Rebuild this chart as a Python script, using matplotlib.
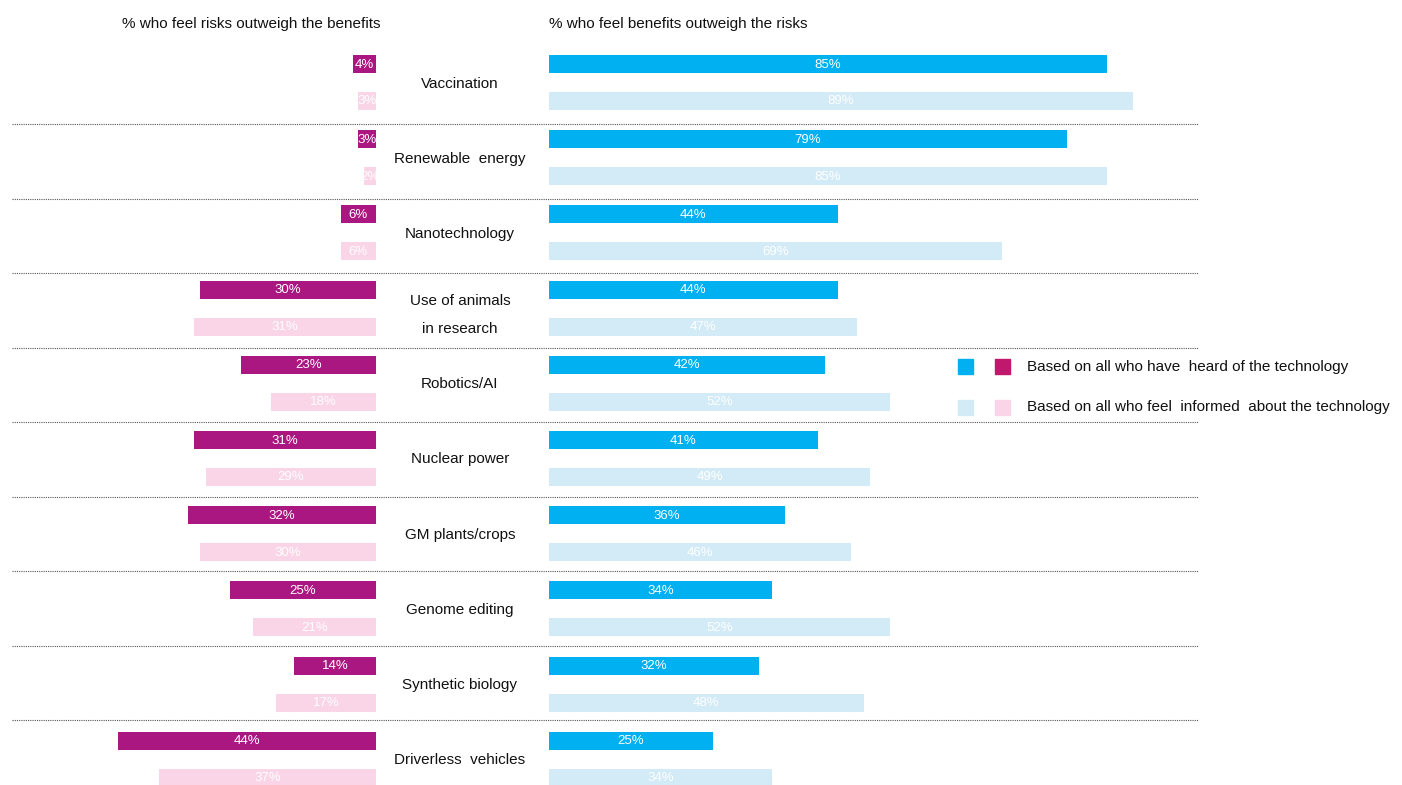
import matplotlib
matplotlib.use("Agg")
import numpy as np
import matplotlib.pyplot as plt
from matplotlib.patches import Rectangle
from matplotlib.lines import Line2D

plt.rcParams['font.family'] = ['Liberation Sans', 'DejaVu Sans']

## ---------------- dados ----------------
categorias = ["Vaccination", "Renewable  energy", "Nanotechnology",
              "Use of animals\n\nin research", "Robotics/AI", "Nuclear power",
              "GM plants/crops", "Genome editing", "Synthetic biology",
              "Driverless  vehicles"]
beneficio_ouviu = [85, 79, 44, 44, 42, 41, 36, 34, 32, 25]
beneficio_informado = [89, 85, 69, 47, 52, 49, 46, 52, 48, 34]
risco_ouviu = [4, 3, 6, 30, 23, 31, 32, 25, 14, 44]
risco_informado = [3, 2, 6, 31, 18, 29, 30, 21, 17, 37]

titulo_esq = "% who feel risks outweigh the benefits"
titulo_dir = "% who feel benefits outweigh the risks"
legenda = ["Based on all who have  heard of the technology",
           "Based on all who feel  informed  about the technology"]

## ---------------- cores ----------------
azul = "#00b0f0"
azul_claro = "#d3ebf7"
magenta = "#ab1780"
magenta_leg = "#c0186c"
rosa = "#fad5e7"

W, H = 1402, 785
fig = plt.figure(figsize=(W / 100, H / 100), dpi=100)

# eixo de fundo (pixels) para separadores e legenda
fundo = fig.add_axes([0, 0, 1, 1])
fundo.set_xlim(0, W)
fundo.set_ylim(H, 0)
fundo.axis("off")

n = len(categorias)
centro = 82.5 + 75.2 * np.arange(n)
y_escuro = centro - 18.5
y_claro = centro + 18.5
alt = 18

# ---------- painel esquerdo ----------
ax_e = fig.add_axes([0, 0, 376 / W, 1])
ax_e.set_xlim(376 / 5.86, 0)
ax_e.set_ylim(H, 0)
ax_e.axis("off")

# ---------- painel direito ----------
ax_d = fig.add_axes([549 / W, 0, 1 - 549 / W, 1])
ax_d.set_xlim(0, (W - 549) / 6.56)
ax_d.set_ylim(H, 0)
ax_d.axis("off")


def rotular(ax, barras, valores):
    for b, v in zip(barras, valores):
        t = ax.text(b.get_x() + b.get_width() / 2, b.get_y() + b.get_height() / 2 + 0.5,
                    f"{v}%", ha="center", va="center", color="white", fontsize=9.5)
        t.set_clip_path(b)


b1 = ax_e.barh(y_escuro, risco_ouviu, height=alt, color=magenta)
b2 = ax_e.barh(y_claro, risco_informado, height=alt, color=rosa)
rotular(ax_e, b1, risco_ouviu)
rotular(ax_e, b2, risco_informado)

b3 = ax_d.barh(y_escuro, beneficio_ouviu, height=alt, color=azul)
b4 = ax_d.barh(y_claro, beneficio_informado, height=alt, color=azul_claro)
rotular(ax_d, b3, beneficio_ouviu)
rotular(ax_d, b4, beneficio_informado)

# categorias no meio
for c, y in zip(categorias, centro):
    dy = 7 if "\n" in c else 1
    fundo.text(460, y + dy, c, ha="center", va="center", fontsize=11, color="#111111",
               linespacing=1.0)

# separadores pontilhados
for i in range(n - 1):
    y = 124 + 74.5 * i
    fundo.add_line(Line2D([12, 1198], [y, y], color="#555555", lw=0.8,
                          linestyle=(0, (1, 1))))

# titulos
fundo.text(381, 24, titulo_esq, ha="right", va="center", fontsize=11, color="#111111")
fundo.text(549, 24, titulo_dir, ha="left", va="center", fontsize=11, color="#111111")

# legenda
for i, (c1, c2, txt) in enumerate([(azul, magenta_leg, legenda[0]),
                                   (azul_claro, rosa, legenda[1])]):
    yc = 366.5 + 40.5 * i
    fundo.add_patch(Rectangle((958, yc - 7.5), 15, 15, color=c1))
    fundo.add_patch(Rectangle((995, yc - 7.5), 15, 15, color=c2))
    fundo.text(1027, yc, txt, ha="left", va="center", fontsize=11, color="#111111")

fig.savefig("out.png", dpi=100)
